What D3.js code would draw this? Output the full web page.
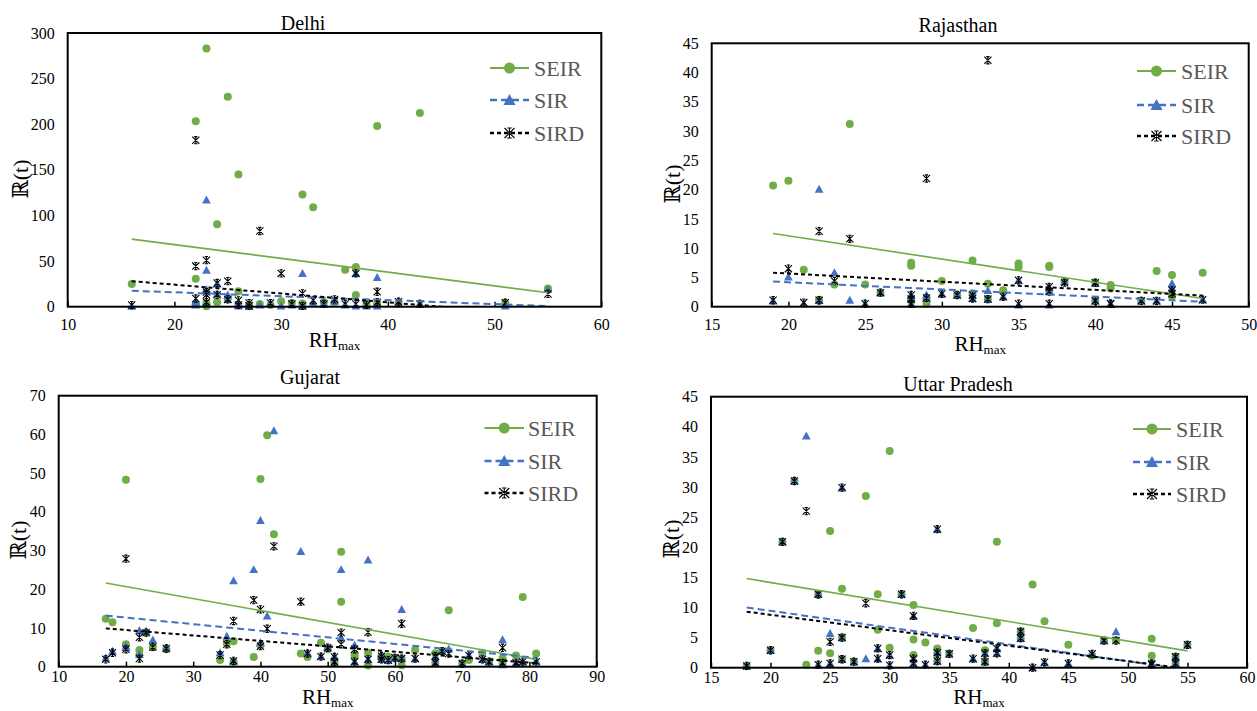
<!DOCTYPE html>
<html><head><meta charset="utf-8">
<script src="https://cdn.jsdelivr.net/npm/d3@7"></script>
<style>body{margin:0;background:#fff}svg{display:block}</style>
</head><body>
<svg id="c" width="1257" height="711"></svg>
<script>
// ---------- DATA ----------
const seriesNames = ["SEIR", "SIR", "SIRD"];

const delhiRH   = [16,22,22,22,23,23,23,23,24,24,25,25,26,26,27,27,28,29,30,31,32,32,33,34,35,36,37,37,38,39,39,41,43,51,55];
const delhiSEIR = [25,203.3,30.7,3,283,0.5,4,2,90.5,5,230,9,145,17,2,1,3,2,6,4,123,3.5,109,5,5,40.5,43.4,12.8,3,198,4,4,212.4,4,20];
const delhiSIR  = [0.5,3.5,6,2,117,40,19,3,25,14,13,8,5,1,1,0.5,2,4,1,2,36.5,0.5,5,4,6,2,36.5,1,1,32,1,3,4,1,19];
const delhiSIRD = [1.8,182.5,44.5,9,51,13,16,5,26,13,28,8,7,2,4,1,83,4,36.5,3,14.6,1,7,3,8,3,36.5,3,2,16.4,5,5.5,3,4.4,14];
const delhiTrendX = [16,55];
const delhiTrendSEIR = [74.1,15.3];
const delhiTrendSIR  = [17.5,0.7];
const delhiTrendSIRD = [28,-9.7];
const delhiXTicks = [10,20,30,40,50,60];
const delhiYTicks = [0,50,100,150,200,250,300];

const rajRH   = [19,20,21,22,22,23,24,25,26,28,28,28,29,29,30,31,32,32,33,33,34,35,35,37,37,37,38,40,40,41,41,43,44,45,45,47];
const rajSEIR = [20.7,21.5,6.3,1.2,1.0,3.8,31.2,3.8,2.4,7.5,7.0,1.0,0.5,1.5,4.4,2.0,7.9,2.3,3.9,1.3,2.8,7.4,6.8,7.0,6.8,2.6,4.3,4.1,1.0,3.7,3.1,1.0,6.1,5.4,1.8,5.8];
const rajSIR  = [1.0,5.1,0.5,20.1,1.1,5.8,1.1,0.5,2.4,2.0,1.3,0.5,2.0,1.5,2.2,2.0,1.4,2.0,2.8,1.3,1.7,4.5,0.3,3.4,0.3,2.6,4.3,4.0,1.0,0.5,0.5,1.0,1.0,4.0,3.2,1.2];
const rajSIRD = [1.1,6.5,0.7,12.9,1.1,4.4,11.6,0.5,2.4,2.0,1.3,0.5,21.9,1.5,2.2,2.0,1.4,2.0,42.1,1.3,1.7,4.5,0.5,3.4,0.5,2.6,4.1,4.1,1.0,0.5,0.5,1.0,1.0,2.8,2.2,1.2];
const rajTrendX = [19,47];
const rajTrendSEIR = [12.5,1.4];
const rajTrendSIR  = [4.3,0.85];
const rajTrendSIRD = [5.8,1.9];
const rajXTicks = [15,20,25,30,35,40,45,50];
const rajYTicks = [0,5,10,15,20,25,30,35,40,45];

const gujRH   = [17,18,20,20,22,22,23,24,26,34,35,36,36,39,40,40,41,42,46,47,49,50,51,51,52,52,54,54,56,56,58,58,59,60,61,61,63,66,66,67,68,70,71,73,74,76,76,78,79,81];
const gujSEIR = [12.4,11.5,48.3,5.8,4.3,3.0,8.8,5.0,4.5,1.7,6.0,6.6,1.2,2.5,48.5,5.5,59.8,34.2,3.4,2.5,6.2,4.5,1.5,1.0,29.7,16.8,3.2,2.5,3.6,0.3,2.6,2.0,2.6,2.3,0.4,2.0,4.3,3.5,1.0,4.0,14.6,0.8,1.7,3.6,1.3,2.1,1.0,2.9,18.0,3.4];
const gujSIR  = [2.3,4.0,5.3,5.0,9.4,3.2,9.2,6.9,4.9,3.6,7.9,22.2,1.5,25.1,37.8,6.2,13.1,61.0,29.8,3.6,2.7,4.9,2.7,1.0,25.1,7.5,5.6,1.3,27.6,1.9,3.2,1.9,1.7,2.3,14.8,2.3,2.1,2.7,1.0,4.0,4.6,0.8,2.9,1.9,1.3,7.0,0.5,1.0,1.3,1.5];
const gujSIRD = [1.9,3.6,27.9,4.5,7.6,2.1,8.8,5.1,4.7,3.0,5.8,11.8,1.5,17.2,14.8,5.3,9.8,31.1,16.8,3.4,2.6,4.9,2.5,1.3,8.8,5.8,4.5,1.3,8.9,1.9,2.7,1.9,1.7,2.3,11.1,2.1,2.1,2.7,1.0,4.0,3.4,0.8,2.9,1.9,1.3,4.9,1.0,1.0,1.3,1.3];
const gujTrendX = [17,81];
const gujTrendSEIR = [21.6,1.9];
const gujTrendSIR  = [13.2,2.3];
const gujTrendSIRD = [9.9,0.9];
const gujXTicks = [10,20,30,40,50,60,70,80,90];
const gujYTicks = [0,10,20,30,40,50,60,70];

const upRH   = [18,20,21,22,23,24,24,25,25,26,26,26,27,28,29,29,30,30,31,32,32,32,33,34,34,34,35,37,38,38,39,39,41,41,42,43,45,47,48,49,52,52,54,54,55];
const upSEIR = [0.3,2.9,20.9,31.0,0.5,12.1,2.8,22.7,2.4,13.1,5.0,1.4,1.0,28.5,12.2,6.3,36.0,3.3,12.2,10.4,4.7,2.1,4.2,3.2,2.5,1.1,2.3,6.6,2.9,1.0,20.9,7.4,6.0,4.9,13.8,7.7,3.8,2.0,4.5,4.5,4.8,2.0,1.8,0.7,3.8];
const upSIR  = [0.3,2.9,20.9,31.0,38.5,12.2,0.5,5.7,0.7,29.9,5.0,1.4,1.0,1.5,3.2,1.5,2.1,0.4,12.2,8.6,1.5,0.7,0.5,23.0,2.5,1.1,2.3,1.5,2.4,1.0,2.4,3.2,6.0,4.9,0.0,0.9,0.7,2.3,4.5,6.0,0.7,0.5,1.8,0.7,3.8];
const upSIRD = [0.3,2.9,20.9,31.0,26.0,12.2,0.5,4.3,0.7,29.9,5.0,1.4,1.0,10.7,3.2,1.5,2.1,0.4,12.2,8.6,1.5,0.7,0.5,23.0,2.5,1.1,2.3,1.5,2.4,1.0,2.4,3.2,6.0,4.9,0.0,0.9,0.7,2.3,4.5,4.5,0.7,0.5,1.8,0.7,3.8];
const upTrendX = [18,55];
const upTrendSEIR = [14.8,2.8];
const upTrendSIR  = [10.0,-0.33];
const upTrendSIRD = [9.3,-0.2];
const upXTicks = [15,20,25,30,35,40,45,50,55,60];
const upYTicks = [0,5,10,15,20,25,30,35,40,45];

// ---------- LAYOUT / STYLE ----------
const colors = {SEIR:"#70AD47", SIR:"#4472C4", SIRD:"#000000"};
const dashes = {SEIR:null, SIR:"7,4", SIRD:"4,3"};
const FONT = "'Liberation Serif','Times New Roman','DejaVu Serif',serif";

const panels = [
  {id:"delhi", title:"Delhi", rh:delhiRH, ys:[delhiSEIR,delhiSIR,delhiSIRD], tx:delhiTrendX, ty:[delhiTrendSEIR,delhiTrendSIR,delhiTrendSIRD], xt:delhiXTicks, yt:delhiYTicks,
   L:67.7,R:601.3,T:33,B:306.7, titleX:303,titleY:30, legX0:490,legX1:529,legTX:534,legY:[68,100,133], ylX:20,ylY:179, xlY:347, xtY:330},
  {id:"raj", title:"Rajasthan", rh:rajRH, ys:[rajSEIR,rajSIR,rajSIRD], tx:rajTrendX, ty:[rajTrendSEIR,rajTrendSIR,rajTrendSIRD], xt:rajXTicks, yt:rajYTicks,
   L:711.7,R:1248.7,T:43.3,B:306.7, titleX:958,titleY:32, legX0:1137,legX1:1176,legTX:1181,legY:[71,105,136], ylX:672,ylY:184, xlY:351, xtY:330},
  {id:"guj", title:"Gujarat", rh:gujRH, ys:[gujSEIR,gujSIR,gujSIRD], tx:gujTrendX, ty:[gujTrendSEIR,gujTrendSIR,gujTrendSIRD], xt:gujXTicks, yt:gujYTicks,
   L:58.7,R:596.7,T:395.7,B:666.7, titleX:310,titleY:384, legX0:484.5,legX1:524,legTX:528,legY:[428,461,493], ylX:18,ylY:540, xlY:704, xtY:682},
  {id:"up", title:"Uttar Pradesh", rh:upRH, ys:[upSEIR,upSIR,upSIRD], tx:upTrendX, ty:[upTrendSEIR,upTrendSIR,upTrendSIRD], xt:upXTicks, yt:upYTicks,
   L:711,R:1247,T:396.7,B:667.7, titleX:958,titleY:391, legX0:1133,legX1:1171,legTX:1176,legY:[429,462,494], ylX:671,ylY:539, xlY:704, xtY:683}
];

const svg = d3.select("#c");

function drawMarker(g, name, x, y, s) {
  if (name === "SEIR") {
    g.append("circle").attr("cx",x).attr("cy",y).attr("r",s).attr("fill",colors.SEIR);
  } else if (name === "SIR") {
    const h = s*1.9;
    g.append("path").attr("d",`M${x},${y-h*0.55}L${x+h*0.55},${y+h*0.45}L${x-h*0.55},${y+h*0.45}Z`).attr("fill",colors.SIR);
  } else {
    const a = s;
    g.append("path")
      .attr("d",`M${x-a},${y-a}L${x+a},${y+a}M${x-a},${y+a}L${x+a},${y-a}M${x},${y-a}L${x},${y+a}M${x-a*0.45},${y-a}L${x+a*0.45},${y-a}M${x-a*0.45},${y+a}L${x+a*0.45},${y+a}`)
      .attr("stroke","#000").attr("stroke-width",1.1).attr("fill","none");
  }
}

panels.forEach(p => {
  const x = d3.scaleLinear().domain([p.xt[0], p.xt[p.xt.length-1]]).range([p.L, p.R]);
  const y = d3.scaleLinear().domain([p.yt[0], p.yt[p.yt.length-1]]).range([p.B, p.T]);
  const g = svg.append("g");

  g.append("clipPath").attr("id","clip-"+p.id).append("rect")
    .attr("x",p.L).attr("y",p.T).attr("width",p.R-p.L).attr("height",p.B-p.T);

  // y axis labels
  const ya = d3.axisLeft(y).tickValues(p.yt).tickSize(0).tickPadding(13);
  const yg = g.append("g").attr("transform",`translate(${p.L},0)`).call(ya);
  yg.select(".domain").remove();
  yg.selectAll("text").attr("font-family",FONT).attr("font-size",16).attr("fill","#000");

  // x axis labels + inside ticks
  const xa = d3.axisBottom(x).tickValues(p.xt).tickSize(-5).tickPadding(0);
  const xg = g.append("g").attr("transform",`translate(0,${p.B})`).call(xa);
  xg.select(".domain").remove();
  xg.selectAll("line").attr("stroke","#000").attr("stroke-width",1.5);
  xg.selectAll("text").attr("font-family",FONT).attr("font-size",16).attr("fill","#000")
    .attr("y", p.xtY - p.B).attr("dy",0);

  // markers
  const mg = g.append("g");
  seriesNames.forEach((nm, si) => {
    p.ys[si].forEach((v, i) => drawMarker(mg, nm, x(p.rh[i]), y(v), nm==="SEIR"?4:(nm==="SIR"?4.2:3.6)));
  });

  // trendlines
  const line = d3.line().x(d=>x(d[0])).y(d=>y(d[1]));
  seriesNames.forEach((nm, si) => {
    const pts = p.tx.map((xv, k) => [xv, p.ty[si][k]]);
    g.append("path").attr("d", line(pts)).attr("clip-path",`url(#clip-${p.id})`)
      .attr("fill","none").attr("stroke",colors[nm]).attr("stroke-width",nm==="SEIR"?1.6:2)
      .attr("stroke-dasharray",dashes[nm]);
  });

  // frame
  g.append("rect").attr("x",p.L).attr("y",p.T).attr("width",p.R-p.L).attr("height",p.B-p.T)
    .attr("fill","none").attr("stroke","#000").attr("stroke-width",2);

  // title
  g.append("text").attr("x",p.titleX).attr("y",p.titleY).attr("text-anchor","middle")
    .attr("font-family",FONT).attr("font-size",20).attr("fill","#000").text(p.title);

  // x label
  const xl = g.append("text").attr("x",(p.L+p.R)/2).attr("y",p.xlY).attr("text-anchor","middle")
    .attr("font-family",FONT).attr("font-size",21).attr("fill","#000");
  xl.append("tspan").text("RH");
  xl.append("tspan").attr("font-size",13).attr("dy",3).text("max");

  // y label
  g.append("text").attr("transform",`translate(${p.ylX},${p.ylY}) rotate(-90)`)
    .attr("text-anchor","middle").attr("dy","0.35em")
    .attr("font-family",FONT).attr("font-size",22).attr("fill","#000").text("ℝ(t)");

  // legend
  seriesNames.forEach((nm, si) => {
    const ly = p.legY[si];
    g.append("line").attr("x1",p.legX0).attr("x2",p.legX1).attr("y1",ly).attr("y2",ly)
      .attr("stroke",colors[nm]).attr("stroke-width",nm==="SEIR"?2.2:2.4).attr("stroke-dasharray",dashes[nm]);
    drawMarker(g, nm, (p.legX0+p.legX1)/2, ly, nm==="SEIR"?5.5:(nm==="SIR"?5.8:5));
    g.append("text").attr("x",p.legTX).attr("y",ly).attr("dy","0.36em")
      .attr("font-family",FONT).attr("font-size",22).attr("fill","#595959").text(nm);
  });
});
</script>
</body></html>
